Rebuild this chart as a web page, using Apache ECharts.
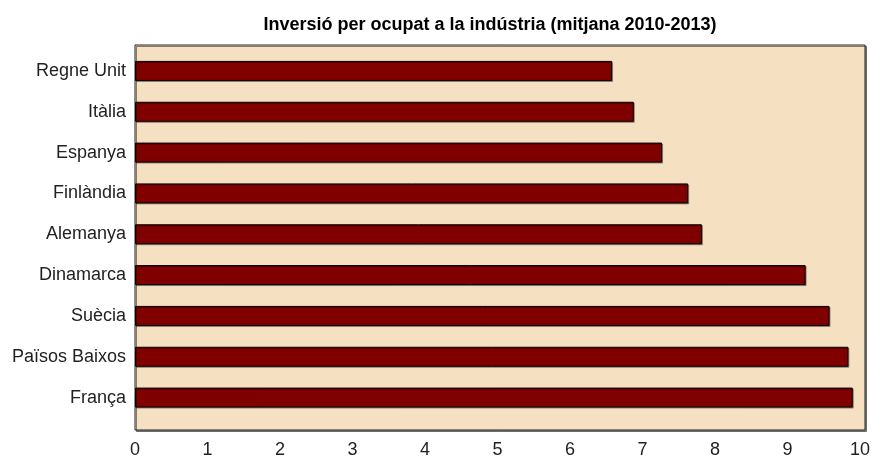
<!DOCTYPE html>
<html>
<head>
<meta charset="utf-8">
<script src="https://cdn.jsdelivr.net/npm/echarts@6.0.0/dist/echarts.min.js"></script>
<style>
  html, body { margin: 0; padding: 0; background: #fff; }
  #chart { width: 873px; height: 459px; }
</style>
</head>
<body>
<div id="chart"></div>
<script>
// dades (mitjana 2010-2013), llegides del gràfic
var paisos = ['Regne Unit', 'Itàlia', 'Espanya', 'Finlàndia', 'Alemanya', 'Dinamarca', 'Suècia', 'Països Baixos', 'França'];
var inversio = [6.58, 6.88, 7.27, 7.63, 7.82, 9.25, 9.58, 9.84, 9.90];
var xTicks = [0, 1, 2, 3, 4, 5, 6, 7, 8, 9, 10];

var FONT = '"Liberation Sans", Arial, sans-serif';

var myChart = echarts.init(document.getElementById('chart'));
var option = {
    animation: false,
    title: {
        text: 'Inversió per ocupat a la indústria (mitjana 2010-2013)',
        left: 485,
        top: 11,
        textAlign: 'center',
        textStyle: { fontFamily: FONT, fontSize: 18, fontWeight: 'bold', color: '#000' }
    },
    grid: [
        // panell de fons
        {
            left: 135, top: 45, width: 730, height: 385,
            show: true,
            backgroundColor: '#F5E0C2',
            borderColor: '#222',
            borderWidth: 1,
            shadowColor: 'rgba(0,0,0,0.45)',
            shadowOffsetX: 1.5,
            shadowOffsetY: 1.5,
            shadowBlur: 0
        },
        // barres
        { left: 135, top: 50.5, width: 730, height: 370 }
    ],
    xAxis: [
        { gridIndex: 0, type: 'value', show: false, min: 0, max: 10 },
        {
            gridIndex: 1,
            type: 'value',
            min: xTicks[0],
            max: xTicks[xTicks.length - 1],
            interval: 1,
            offset: 10,
            axisLine: { show: false },
            axisTick: { show: false },
            splitLine: { show: false },
            axisLabel: { margin: 13, fontFamily: FONT, fontSize: 18, color: '#222' }
        }
    ],
    yAxis: [
        { gridIndex: 0, type: 'value', show: false },
        {
            gridIndex: 1,
            type: 'category',
            data: paisos,
            inverse: true,
            axisLine: { show: false },
            axisTick: { show: false },
            axisLabel: { margin: 9, fontFamily: FONT, fontSize: 18, color: '#222' }
        }
    ],
    series: [
        {
            type: 'bar',
            xAxisIndex: 1,
            yAxisIndex: 1,
            data: inversio,
            barWidth: 20,
            itemStyle: {
                color: '#800000',
                borderColor: '#000',
                borderWidth: 1,
                shadowColor: 'rgba(0,0,0,0.35)',
                shadowOffsetX: 1,
                shadowOffsetY: 1,
                shadowBlur: 0
            }
        }
    ]
};
myChart.setOption(option);
</script>
</body>
</html>
